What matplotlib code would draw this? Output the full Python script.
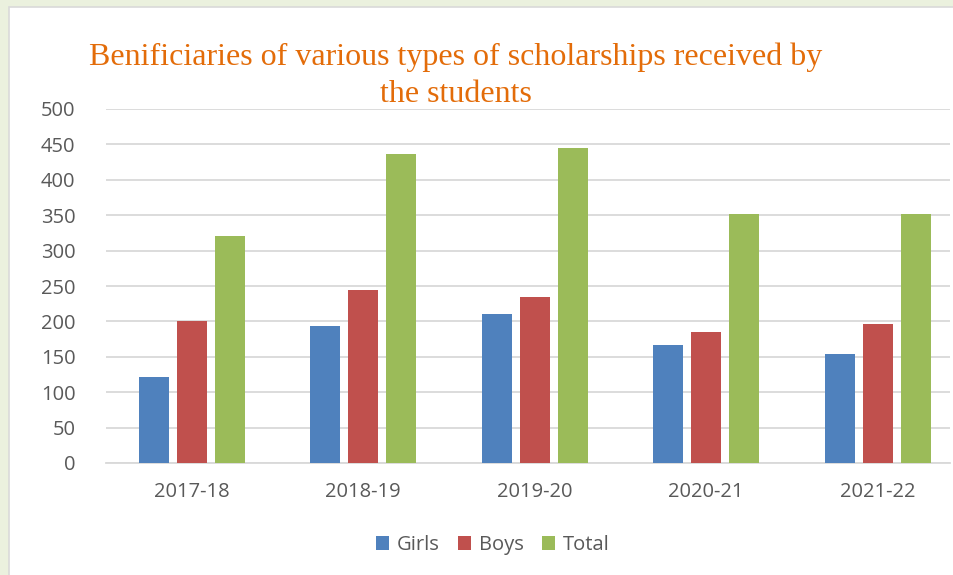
import matplotlib.pyplot as plt
import numpy as np

years = ["2017-18", "2018-19", "2019-20", "2020-21", "2021-22"]
girls = [121, 193, 210, 167, 154]
boys = [200, 244, 235, 185, 197]
total = [320, 437, 445, 352, 351]
yticks = [0, 50, 100, 150, 200, 250, 300, 350, 400, 450, 500]

W, H = 954, 575
fig = plt.figure(figsize=(W / 100, H / 100), dpi=100)
fig.patch.set_facecolor('#EBF1DE')

# white chart panel with thin gray border
panel = plt.Rectangle((9 / W, -0.01), 1.0, 1 - 7 / H + 0.01, transform=fig.transFigure,
                      facecolor='white', edgecolor='#D9D9D9', linewidth=1.2, zorder=-1)
fig.patches.append(panel)

ax = fig.add_axes([106 / W, 1 - 463 / H, (950 - 106) / W, (463 - 109) / H])
ax.set_facecolor('none')
ax.set_zorder(1)

x = np.arange(len(years))
width = 0.175
pitch = 0.2216
ax.bar(x - pitch, girls, width, color='#4F81BD', label='Girls', zorder=3)
ax.bar(x, boys, width, color='#C0504D', label='Boys', zorder=3)
ax.bar(x + pitch, total, width, color='#9BBB59', label='Total', zorder=3)

ax.set_xlim(-0.5, (950 - 106) / 171.5 - 0.5)
ax.set_ylim(0, 500)
ax.set_yticks(yticks)
ax.set_xticks(x)
ax.set_xticklabels(years)
ax.yaxis.grid(True, color='#D9D9D9', linewidth=1.3, zorder=0)
ax.set_axisbelow(True)
for s in ['top', 'right', 'left']:
    ax.spines[s].set_visible(False)
ax.spines['bottom'].set_color('#D9D9D9')
ax.spines['bottom'].set_linewidth(1.3)
ax.tick_params(length=0, labelcolor='#595959', labelsize=14.5)
ax.tick_params(axis='y', pad=22)
ax.tick_params(axis='x', pad=14)
for lab in ax.get_xticklabels() + ax.get_yticklabels():
    lab.set_family('Open Sans')

fig.text(456 / W, 1 - 76 / H,
         "Benificiaries of various types of scholarships received by\nthe students",
         ha='center', va='center', color='#E36C09', fontsize=23,
         family='Liberation Serif', linespacing=1.35, zorder=2)

leg = fig.legend(loc='center', bbox_to_anchor=(493 / W, 1 - 545 / H), ncol=3,
                 frameon=False, handlelength=0.65, handleheight=0.65,
                 handletextpad=0.4, columnspacing=0.9,
                 prop={'family': 'Open Sans', 'size': 14.5})
for t in leg.get_texts():
    t.set_color('#595959')

fig.savefig('out.png', dpi=100, facecolor=fig.get_facecolor())
